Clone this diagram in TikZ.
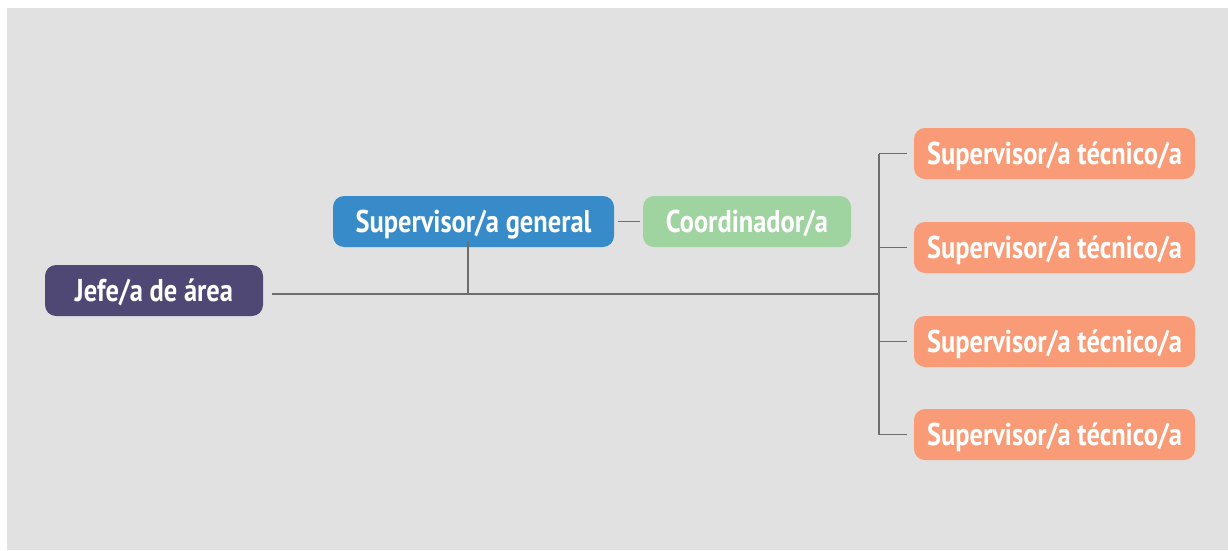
\documentclass[tikz,border=0pt]{standalone}
\usepackage{fontspec}
\setmainfont{PT Sans}[FakeStretch=0.84]
\definecolor{bgc}{HTML}{E0E1E0}
\definecolor{jefec}{HTML}{4F4874}
\definecolor{supc}{HTML}{388BC9}
\definecolor{coordc}{HTML}{9FD3A0}
\definecolor{tecc}{HTML}{F89B76}
\definecolor{linec}{HTML}{6D6D6D}
\tikzset{
  box/.style={rounded corners=11pt, text=white, font=\fontsize{31.5}{34}\selectfont\bfseries, inner sep=0pt, anchor=center, text height=22pt, text depth=0pt},
  jefebox/.style={box, fill=jefec, minimum width=218pt, minimum height=51pt},
  supbox/.style={box, fill=supc, minimum width=281pt, minimum height=51pt},
  coordbox/.style={box, fill=coordc, minimum width=208pt, minimum height=51pt},
  tecbox/.style={box, fill=tecc, minimum width=281pt, minimum height=51pt},
  conn/.style={draw=linec, line width=1.5pt}
}
\begin{document}
\begin{tikzpicture}[x=1pt,y=-1pt]
\useasboundingbox (0,0) rectangle (1228,551);
\fill[bgc] (7,8) rectangle (1228,550);
\node[jefebox] (jefe) at (154,290.5) {Jefe/a de área};
\node[supbox] (sup) at (473.5,221.5) {Supervisor/a general};
\node[coordbox] (coord) at (747,221.5) {Coordinador/a};
\node[tecbox] (t1) at (1054.5,153.5) {Supervisor/a técnico/a};
\node[tecbox] (t2) at (1054.5,247.5) {Supervisor/a técnico/a};
\node[tecbox] (t3) at (1054.5,341.5) {Supervisor/a técnico/a};
\node[tecbox] (t4) at (1054.5,434.5) {Supervisor/a técnico/a};
\coordinate (hstart) at (272,294);
\coordinate (trunk) at (879,294);
\coordinate (supj) at (468,294);
\draw[conn] (hstart) -- (trunk);
\draw[conn] (supj) -- ([yshift=6pt]sup.south -| supj);
\draw[conn] ([xshift=4pt]sup.east) -- ([xshift=-3pt]coord.west);
\draw[conn] (trunk |- t1) -- (trunk |- t4);
\foreach \t in {t1,t2,t3,t4}{
  \draw[conn] (trunk |- \t) -- ([xshift=-7pt]\t.west);
}
\end{tikzpicture}
\end{document}
